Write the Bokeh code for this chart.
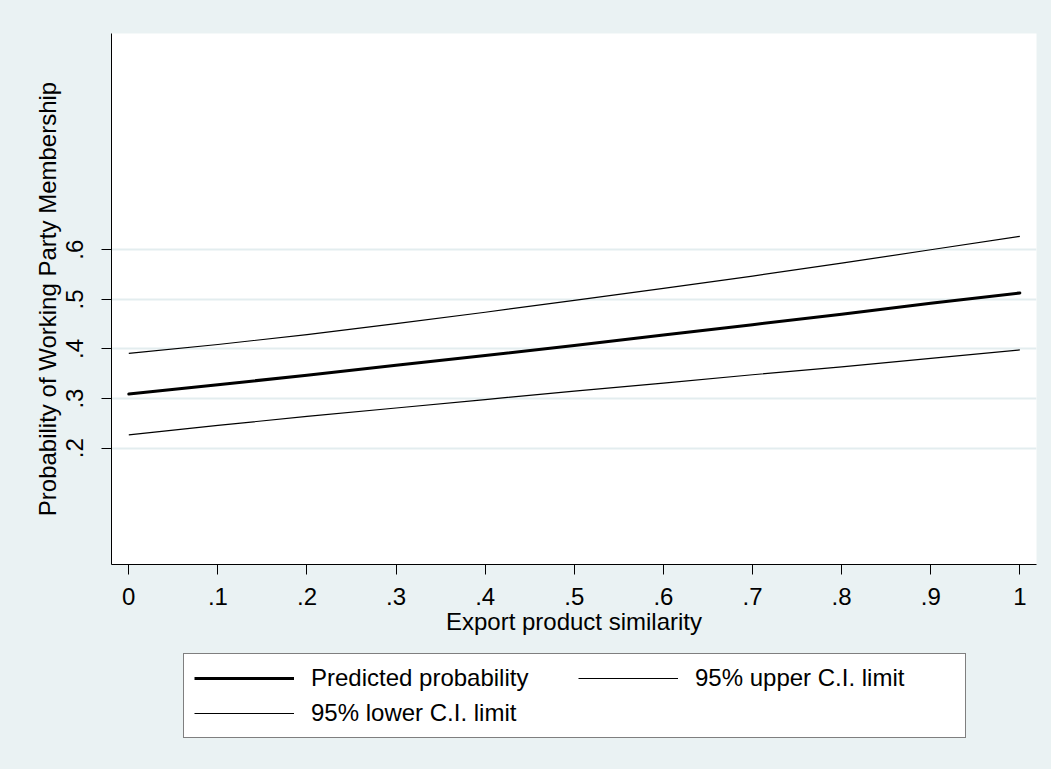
from bokeh.plotting import figure
from bokeh.layouts import column
from bokeh.models import (Range1d, FixedTicker, Legend, LegendItem)
from bokeh.embed import file_html
from bokeh.resources import INLINE

# ---- data ----
x_vals = [0.0, 0.1, 0.2, 0.3, 0.4, 0.5, 0.6, 0.7, 0.8, 0.9, 1.0]
predicted = [0.309, 0.328, 0.347, 0.367, 0.387, 0.407, 0.428, 0.449, 0.470, 0.492, 0.513]
upper_ci = [0.391, 0.409, 0.429, 0.451, 0.474, 0.498, 0.522, 0.547, 0.573, 0.600, 0.627]
lower_ci = [0.227, 0.246, 0.264, 0.281, 0.298, 0.315, 0.331, 0.348, 0.364, 0.381, 0.398]

x_ticks = [0, 0.1, 0.2, 0.3, 0.4, 0.5, 0.6, 0.7, 0.8, 0.9, 1.0]
x_tick_labels = ["0", ".1", ".2", ".3", ".4", ".5", ".6", ".7", ".8", ".9", "1"]
y_ticks = [0.2, 0.3, 0.4, 0.5, 0.6]
y_tick_labels = [".2", ".3", ".4", ".5", ".6"]

x_title = "Export product similarity"
y_title = "Probability of Working Party Membership"
series_names = ["Predicted probability", "95% upper C.I. limit", "95% lower C.I. limit"]

FONT = "Liberation Sans"
FS = "24px"
BG = "#EAF2F3"

TOP_H = 650
BOT_H = 119

p = figure(width=1051, height=TOP_H, output_backend="svg", toolbar_location=None,
           x_range=Range1d(-0.0194, 1.0187), y_range=Range1d(-0.0345, 1.036),
           min_border_left=111, min_border_right=15, min_border_top=33,
           min_border_bottom=TOP_H - 564)

p.background_fill_color = "white"
p.border_fill_color = BG
p.outline_line_color = None

# axes
p.xaxis.ticker = FixedTicker(ticks=x_ticks)
p.xaxis.major_label_overrides = {t: l for t, l in zip(x_ticks, x_tick_labels)}
p.yaxis.ticker = FixedTicker(ticks=y_ticks)
p.yaxis.major_label_overrides = {t: l for t, l in zip(y_ticks, y_tick_labels)}
p.yaxis.major_label_orientation = "vertical"

for ax in (p.xaxis, p.yaxis):
    ax.axis_line_color = "black"
    ax.axis_line_width = 1
    ax.major_tick_line_color = "black"
    ax.major_tick_line_width = 1
    ax.major_tick_out = 10
    ax.major_tick_in = 0
    ax.minor_tick_line_color = None
    ax.major_label_text_font = FONT
    ax.major_label_text_font_size = FS
    ax.major_label_text_color = "black"
    ax.axis_label_text_font = FONT
    ax.axis_label_text_font_size = FS
    ax.axis_label_text_font_style = "normal"
    ax.axis_label_text_color = "black"

p.xaxis.axis_label = x_title
p.yaxis.axis_label = y_title
p.xaxis.major_label_standoff = 13
p.yaxis.major_label_standoff = 18
p.xaxis.axis_label_standoff = 0
p.yaxis.axis_label_standoff = 3

p.xgrid.grid_line_color = None
p.ygrid.ticker = FixedTicker(ticks=y_ticks)
p.ygrid.grid_line_color = "#E3EDEF"
p.ygrid.grid_line_width = 2

# lines
p.line(x_vals, predicted, line_color="black", line_width=3, line_join="round", line_cap="round")
p.line(x_vals, upper_ci, line_color="black", line_width=1.2, line_join="round")
p.line(x_vals, lower_ci, line_color="black", line_width=1.2, line_join="round")

# ---- legend strip below the chart (frame aligned with the chart's frame) ----
q = figure(width=1051, height=BOT_H, output_backend="svg", toolbar_location=None,
           x_axis_type=None, y_axis_type=None,
           x_range=Range1d(0, 1), y_range=Range1d(10, 11),
           min_border_left=0, min_border_right=0, min_border_top=0, min_border_bottom=0)
q.background_fill_color = BG
q.border_fill_color = BG
q.outline_line_color = None
q.xgrid.grid_line_color = None
q.ygrid.grid_line_color = None

# legend keys (same series, kept out of view in this strip)
k_pred = q.line(x_vals, predicted, line_color="black", line_width=3)
k_up = q.line(x_vals, upper_ci, line_color="black", line_width=1.2)
k_lo = q.line(x_vals, lower_ci, line_color="black", line_width=1.2)

legend = Legend(items=[LegendItem(label=series_names[0], renderers=[k_pred]),
                       LegendItem(label=series_names[1], renderers=[k_up]),
                       LegendItem(label=series_names[2], renderers=[k_lo])],
                orientation="horizontal", ncols=2,
                location=(72, BOT_H - (738 - TOP_H)),
                padding=10, spacing=7, margin=0,
                glyph_width=100, glyph_height=28, label_height=28, label_width=260,
                label_standoff=17,
                label_text_font=FONT, label_text_font_size=FS, label_text_color="black",
                border_line_color="black", border_line_width=1,
                background_fill_color="white", background_fill_alpha=1.0)
q.add_layout(legend, "center")

layout = column(p, q, spacing=0, styles={"background-color": BG})
open("out.html", "w").write(file_html(layout, INLINE))
